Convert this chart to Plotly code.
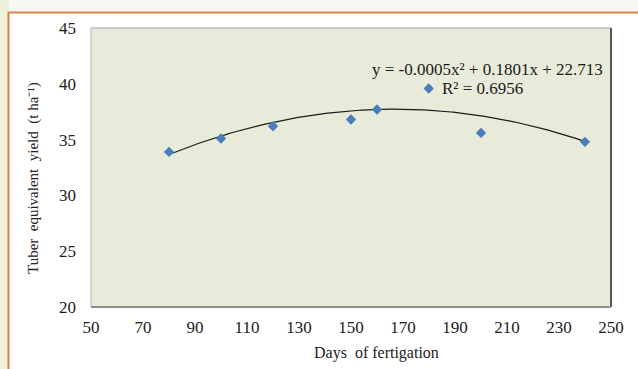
import numpy as np
import plotly.graph_objects as go

# Days of fertigation and tuber equivalent yield (t/ha)
days = [80, 100, 120, 150, 160, 200, 240]
yield_t_ha = [33.9, 35.1, 36.2, 36.8, 37.7, 35.6, 34.8]

x_ticks = [50, 70, 90, 110, 130, 150, 170, 190, 210, 230, 250]
y_ticks = [20, 25, 30, 35, 40, 45]

# Polynomial trendline coefficients (a, b, c) and goodness of fit
trend_coef = [-0.00054, 0.1801, 22.713]
r_squared = 0.6956

a, b, c = trend_coef
equation_text = f"y = {a:.4f}x² + {b:.4f}x + {c:.3f}"
r2_text = f"R² = {r_squared:.4f}"

xs = np.linspace(min(days), max(days), 200)
ys = np.polyval(trend_coef, xs)

serif = "Liberation Serif"
W, H = 638, 369
L, R, T, B = 91, 27, 28, 62
PW, PH = W - L - R, H - T - B


def px(x):
    return (x - L) / PW


def py(y):
    return (H - B - y) / PH


fig = go.Figure()

fig.add_trace(go.Scatter(
    x=xs, y=ys, mode="lines",
    line=dict(color="#1a1a1a", width=1.2),
    hoverinfo="skip", showlegend=False,
))
fig.add_trace(go.Scatter(
    x=days, y=yield_t_ha, mode="markers",
    marker=dict(symbol="diamond", size=8, color="#4a7ebb"),
    showlegend=False,
))

# Outer page decoration: beige margin, orange frame, white card
fig.add_shape(type="rect", xref="paper", yref="paper",
              x0=px(0), x1=px(W + 2), y0=py(H + 2), y1=py(0),
              fillcolor="#f7f8f2", line_width=0, layer="below")
fig.add_shape(type="rect", xref="paper", yref="paper",
              x0=px(0), x1=px(9), y0=py(H + 2), y1=py(0),
              fillcolor="#eff2d8", line_width=0, layer="below")
fig.add_shape(type="rect", xref="paper", yref="paper",
              x0=px(8.5), x1=px(W + 3), y0=py(H + 6), y1=py(12.5),
              fillcolor="white", line=dict(color="#d9834f", width=2), layer="below")
# Plot area fill
fig.add_shape(type="rect", xref="paper", yref="paper", x0=0, x1=1, y0=0, y1=1,
              fillcolor="#e9ebda", line_width=0, layer="below")

# Plot-area frame: light top/left, dark right/bottom
fig.add_shape(type="line", xref="paper", yref="paper", x0=0, x1=1, y0=1, y1=1,
              line=dict(color="#b8b8b8", width=1.5))
fig.add_shape(type="line", xref="paper", yref="paper", x0=0, x1=0, y0=0, y1=1,
              line=dict(color="#c8c8c8", width=1.5))
fig.add_shape(type="line", xref="paper", yref="paper", x0=1, x1=1, y0=0, y1=1,
              line=dict(color="#555555", width=2))
fig.add_shape(type="line", xref="paper", yref="paper", x0=0, x1=1, y0=0, y1=0,
              line=dict(color="#8c8c8c", width=2))

# Trendline legend: equation and R²
fig.add_annotation(x=px(605), y=py(69), xref="paper", yref="paper", text=equation_text,
                   showarrow=False, xanchor="right", yanchor="middle",
                   font=dict(family=serif, size=17, color="#1a1a1a"))
fig.add_annotation(x=px(440), y=py(89), xref="paper", yref="paper", text=r2_text,
                   showarrow=False, xanchor="left", yanchor="middle",
                   font=dict(family=serif, size=17, color="#1a1a1a"))

fig.add_trace(go.Scatter(
    x=[50 + (428.7 - L) / PW * 200], y=[45 - (88.5 - T) / PH * 25], mode="markers",
    marker=dict(symbol="diamond", size=8, color="#4a7ebb"),
    hoverinfo="skip", showlegend=False,
))

# Axis titles
fig.add_annotation(x=px(376), y=py(353), xref="paper", yref="paper",
                   text="Days  of fertigation", showarrow=False,
                   xanchor="center", yanchor="middle",
                   font=dict(family=serif, size=16, color="#222222"))
fig.add_annotation(x=px(33), y=py(178), xref="paper", yref="paper",
                   text="Tuber  equivalent  yield  (t ha⁻¹)", showarrow=False,
                   textangle=-90, xanchor="center", yanchor="middle",
                   font=dict(family=serif, size=15, color="#222222"))

fig.update_layout(
    width=W, height=H,
    margin=dict(l=L, r=R, t=T, b=B),
    paper_bgcolor="white",
    plot_bgcolor="#e9ebda",
    font=dict(family=serif, size=17, color="#222222"),
    showlegend=False,
)
fig.update_xaxes(
    range=[50, 250], tickvals=x_ticks, showgrid=False, zeroline=False,
    showline=False, ticks="", ticklabelstandoff=8,
    tickfont=dict(family=serif, size=17),
)
fig.update_yaxes(
    range=[20, 45], tickvals=y_ticks, showgrid=False, zeroline=False,
    showline=False, ticks="", ticklabelstandoff=14,
    tickfont=dict(family=serif, size=17),
)

fig.write_html("out.html")
